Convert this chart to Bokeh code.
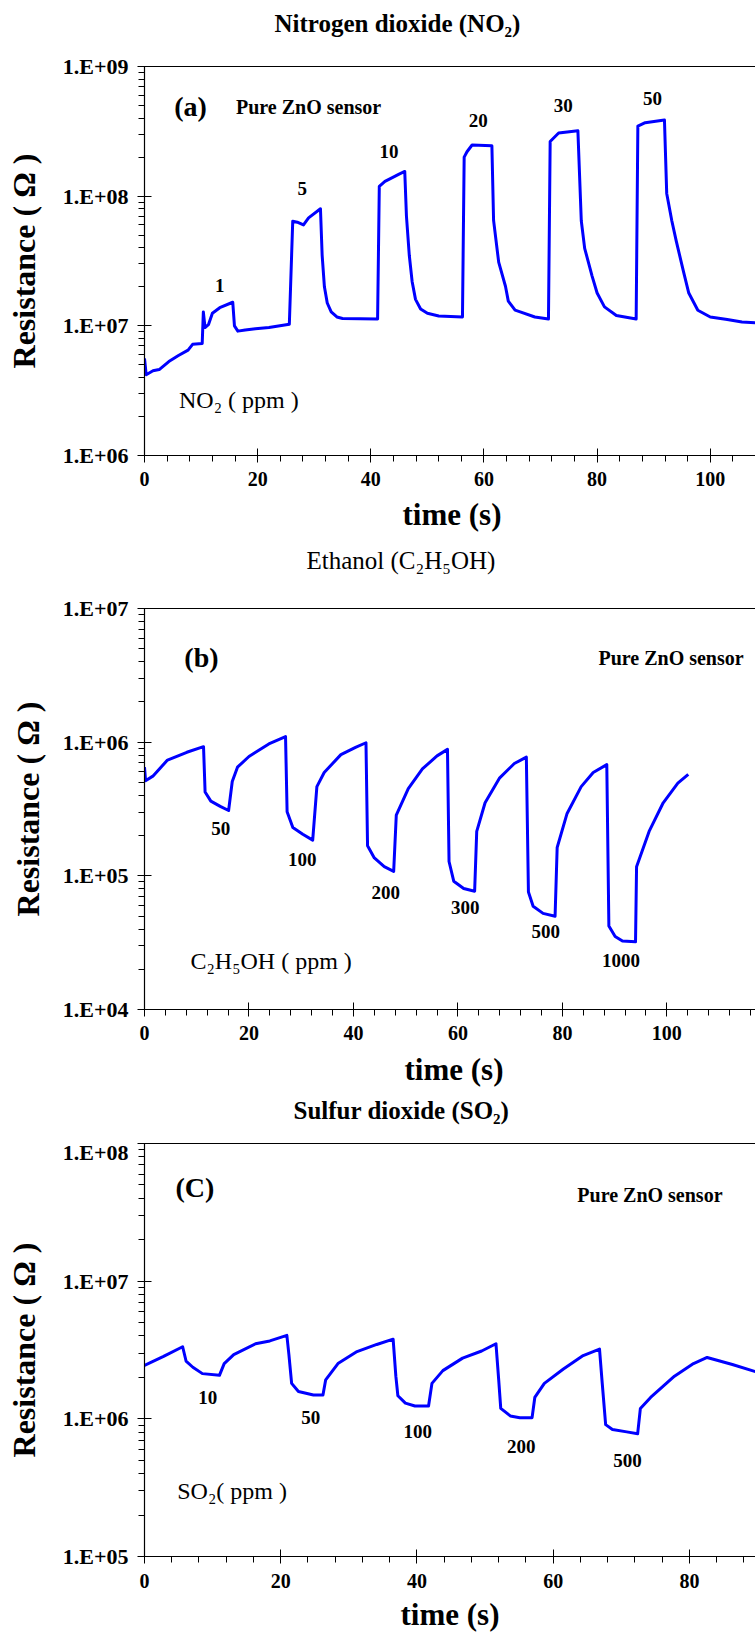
from bokeh.plotting import figure
from bokeh.models import FixedTicker, Label, LinearAxis, Range1d, Title
from bokeh.layouts import column
from bokeh.embed import file_html
from bokeh.resources import INLINE

# ---------------- data ----------------
# (a) NO2
t_a = [0.0, 0.3, 1.5, 2.6, 4.3, 6.0, 7.7, 8.5, 10.2, 10.4, 10.7, 11.3, 12.0, 13.3, 15.6, 15.9, 16.5, 17.8, 19.6, 22.0, 25.6,
       26.2, 27.0, 28.1, 29.0, 31.1, 31.4, 31.8, 32.3, 33.0, 34.0, 35.0, 41.2,
       41.5, 42.5, 43.8, 45.0, 46.0, 46.3, 46.8, 47.3, 47.9, 48.8, 50.0, 52.0, 56.2,
       56.5, 57.0, 57.9, 61.4, 61.7, 62.6, 63.8, 64.3, 65.5, 66.4, 69.0, 71.4,
       71.7, 73.2, 76.6, 77.2, 77.8, 79.1, 80.0, 81.3, 83.4, 86.9,
       87.2, 88.5, 91.9, 92.3, 93.2, 94.0, 95.3, 96.2, 97.8, 100.0, 103.0, 105.6, 108.8]
r_a = [5.6e6, 4.2e6, 4.5e6, 4.6e6, 5.3e6, 5.9e6, 6.5e6, 7.2e6, 7.3e6, 1.28e7, 9.7e6, 1.02e7, 1.25e7, 1.38e7, 1.52e7, 1.0e7, 9.1e6, 9.3e6, 9.5e6, 9.7e6, 1.03e7,
       6.4e7, 6.3e7, 6.0e7, 6.8e7, 8.0e7, 3.5e7, 2.0e7, 1.5e7, 1.28e7, 1.17e7, 1.14e7, 1.13e7,
       1.19e8, 1.3e8, 1.39e8, 1.48e8, 1.55e8, 7.0e7, 3.5e7, 2.2e7, 1.6e7, 1.35e7, 1.25e7, 1.19e7, 1.17e7,
       2.0e8, 2.2e8, 2.48e8, 2.45e8, 6.5e7, 3.1e7, 2.02e7, 1.55e7, 1.32e7, 1.28e7, 1.17e7, 1.13e7,
       2.64e8, 3.07e8, 3.2e8, 6.46e7, 3.96e7, 2.43e7, 1.79e7, 1.40e7, 1.2e7, 1.13e7,
       3.47e8, 3.69e8, 3.87e8, 1.05e8, 6.46e7, 4.48e7, 2.58e7, 1.79e7, 1.32e7, 1.17e7, 1.12e7, 1.07e7, 1.05e7]
conc_a = ["1", "5", "10", "20", "30", "50"]
conc_a_x = [13.3, 27.9, 43.2, 59.0, 74.0, 89.8]
conc_a_y = [2.05e7, 1.155e8, 2.22e8, 3.81e8, 5.0e8, 5.67e8]

# (b) Ethanol
t_b = [0.0, 0.2, 1.6, 4.4, 8.1, 11.3, 11.6, 12.7, 14.5, 16.1, 16.8, 17.8, 20.0, 23.8, 27.0, 27.3, 28.4, 30.3, 32.2,
       33.0, 34.4, 37.6, 40.4, 42.4, 42.7, 44.0, 45.9, 47.7, 48.2, 50.5, 53.2, 56.0, 58.0, 58.3, 59.2, 61.1, 63.2,
       63.6, 65.2, 68.0, 70.8, 73.1, 73.5, 74.4, 76.3, 78.6, 79.0, 80.9, 83.6, 85.9, 88.5, 88.9, 90.1, 91.5, 94.0,
       94.2, 96.6, 99.3, 102.1, 104.1]
r_b = [6.5e5, 5.15e5, 5.57e5, 7.35e5, 8.4e5, 9.25e5, 4.24e5, 3.62e5, 3.31e5, 3.08e5, 5.08e5, 6.5e5, 7.81e5, 9.7e5, 1.1e6,
       3.02e5, 2.3e5, 2.05e5, 1.85e5, 4.65e5, 5.93e5, 8.07e5, 9.13e5, 9.9e5, 1.68e5, 1.36e5, 1.17e5, 1.08e5,
       2.84e5, 4.5e5, 6.3e5, 7.9e5, 8.83e5, 1.28e5, 9.12e4, 8.05e4, 7.67e4, 2.15e5, 3.52e5, 5.41e5, 6.92e5, 7.73e5,
       7.58e4, 5.93e4, 5.24e4, 4.99e4, 1.63e5, 2.93e5, 4.65e5, 5.93e5, 6.79e5, 4.22e4, 3.52e4, 3.25e4, 3.21e4,
       1.17e5, 2.15e5, 3.52e5, 4.93e5, 5.75e5]
conc_b = ["50", "100", "200", "300", "500", "1000"]
conc_b_x = [14.6, 30.2, 46.2, 61.4, 76.8, 91.2]
conc_b_y = [2.26e5, 1.33e5, 7.45e4, 5.82e4, 3.81e4, 2.33e4]

# (c) SO2
t_c = [0.0, 2.8, 5.6, 6.1, 7.1, 8.5, 11.0, 11.7, 13.1, 16.3, 18.4, 20.9, 21.2, 21.6, 22.6, 24.8, 26.2,
       26.6, 28.4, 31.2, 34.1, 36.5, 36.9, 37.2, 38.3, 39.7, 41.7, 42.2, 43.8, 46.7, 49.5, 51.6,
       52.0, 52.3, 53.7, 55.1, 56.9, 57.3, 58.7, 61.5, 64.4, 66.8, 67.2, 67.7, 68.7, 70.8, 72.4,
       72.8, 74.3, 77.8, 80.6, 82.6, 86.3, 89.7]
r_c = [2.44e6, 2.84e6, 3.34e6, 2.63e6, 2.37e6, 2.13e6, 2.07e6, 2.52e6, 2.93e6, 3.51e6, 3.68e6, 4.04e6,
       2.93e6, 1.81e6, 1.58e6, 1.49e6, 1.49e6, 1.92e6, 2.52e6, 3.08e6, 3.47e6, 3.79e6,
       2.04e6, 1.47e6, 1.30e6, 1.24e6, 1.24e6, 1.81e6, 2.24e6, 2.76e6, 3.11e6, 3.51e6,
       1.92e6, 1.19e6, 1.05e6, 1.02e6, 1.02e6, 1.43e6, 1.81e6, 2.3e6, 2.88e6, 3.21e6,
       1.81e6, 9.08e5, 8.38e5, 8.04e5, 7.8e5, 1.19e6, 1.43e6, 2.04e6, 2.52e6, 2.79e6, 2.48e6, 2.2e6]
conc_c = ["10", "50", "100", "200", "500"]
conc_c_x = [9.3, 24.4, 40.1, 55.3, 70.9]
conc_c_y = [1.43e6, 1.02e6, 8.04e5, 6.31e5, 4.98e5]

# ticks
x_ticks_ab = [0, 20, 40, 60, 80, 100]
x_ticks_c = [0, 20, 40, 60, 80]
y_ticks_a = [1e6, 1e7, 1e8, 1e9]
y_labels_a = ["1.E+06", "1.E+07", "1.E+08", "1.E+09"]
y_ticks_b = [1e4, 1e5, 1e6, 1e7]
y_labels_b = ["1.E+04", "1.E+05", "1.E+06", "1.E+07"]
y_ticks_c = [1e5, 1e6, 1e7, 1e8]
y_labels_c = ["1.E+05", "1.E+06", "1.E+07", "1.E+08"]

titles = ["Nitrogen dioxide (NO\u2082)", "Ethanol (C\u2082H\u2085OH)", "Sulfur dioxide (SO\u2082)"]
panel_tags = ["(a)", "(b)", "(C)"]
gas_units = ["NO\u2082 ( ppm )", "C\u2082H\u2085OH ( ppm )", "SO\u2082( ppm )"]
sensor_text = "Pure ZnO sensor"
x_label = "time (s)"
y_label = "Resistance ( \u03a9 )"

FONT = "Liberation Serif"
BLUE = "#0000FF"


def minors_log(lo, hi):
    out = []
    e = lo
    while e < hi:
        out += [m * e for m in range(2, 10)]
        e *= 10
    return out


def make_panel(t, r, xmax, ylo, yhi, yticks, ylabels, xticks, xminor,
               left, top, fh, bottom, tick_standoff, xlabel_standoff, ylabel_standoff):
    p = figure(frame_width=755 - left, frame_height=fh, y_axis_type="log",
               x_range=Range1d(0, xmax), y_range=Range1d(ylo, yhi),
               output_backend="svg", toolbar_location=None,
               min_border_left=left, min_border_right=0,
               min_border_top=top, min_border_bottom=bottom)
    p.title.visible = False
    p.outline_line_color = None
    p.xgrid.visible = False
    p.ygrid.visible = False
    top_axis = LinearAxis(ticker=FixedTicker(ticks=[]), axis_line_color="black",
                          axis_line_width=1.2, major_tick_line_color=None,
                          minor_tick_line_color=None, major_tick_out=0, minor_tick_out=0,
                          major_tick_in=0, minor_tick_in=0, major_label_standoff=0)
    p.add_layout(top_axis, "above")

    p.line(t, r, line_color=BLUE, line_width=3, line_join="round")

    xa = p.below[0]
    ya = p.left[0]
    for ax in (xa, ya):
        ax.axis_line_color = "black"
        ax.axis_line_width = 1.2
        ax.major_tick_line_color = "black"
        ax.minor_tick_line_color = "black"
        ax.major_tick_in = 7
        ax.major_tick_out = 7
        ax.minor_tick_in = 0
        ax.minor_tick_out = 6
        ax.major_label_text_font = FONT
        ax.major_label_text_font_style = "bold"
        ax.major_label_text_color = "black"
        ax.axis_label_text_font = FONT
        ax.axis_label_text_font_style = "bold"
        ax.axis_label_text_color = "black"

    xa.ticker = FixedTicker(ticks=xticks, minor_ticks=xminor)
    xa.major_label_text_font_size = "20px"
    xa.major_label_standoff = tick_standoff
    xa.axis_label = x_label
    xa.axis_label_text_font_size = "31px"
    xa.axis_label_standoff = xlabel_standoff

    ya.ticker = FixedTicker(ticks=yticks, minor_ticks=minors_log(ylo, yhi))
    ya.major_label_overrides = {v: l for v, l in zip(yticks, ylabels)}
    ya.major_label_text_font_size = "22px"
    ya.major_label_standoff = 9
    ya.axis_label = y_label
    ya.axis_label_text_font_size = "32px"
    ya.axis_label_standoff = ylabel_standoff
    return p


def add_text(p, x, y, text, size, bold=True, align="center", baseline="middle"):
    p.add_layout(Label(x=x, y=y, text=text, text_font=FONT,
                       text_font_style="bold" if bold else "normal",
                       text_font_size=size, text_color="black",
                       text_align=align, text_baseline=baseline))


def add_title(p, side, text, bold, offset, standoff):
    p.add_layout(Title(text=text, align="left", offset=offset, vertical_align="top",
                       standoff=standoff, text_font=FONT, text_font_size="25px",
                       text_font_style="bold" if bold else "normal", text_color="black"),
                 side)


# ---------------- panel (a) ----------------
pa = make_panel(t_a, r_a, 108.7, 1e6, 1e9, y_ticks_a, y_labels_a, x_ticks_ab,
                [v for v in range(4, 109, 4) if v % 20],
                left=140, top=86, fh=389, bottom=140,
                tick_standoff=9, xlabel_standoff=8, ylabel_standoff=18)
add_title(pa, "above", titles[0], True, 130, 56)
add_text(pa, 8.15, 4.92e8, panel_tags[0], "28px")
add_text(pa, 29.0, 4.86e8, sensor_text, "20px")
add_text(pa, 6.1, 2.69e6, gas_units[0], "24px", False, "left")
for s, x, y in zip(conc_a, conc_a_x, conc_a_y):
    add_text(pa, x, y, s, "19px")
# title of panel (b) sits below panel (a)'s time axis
add_title(pa, "below", titles[1], False, 162, 24)

# ---------------- panel (b) ----------------
pb = make_panel(t_b, r_b, 118.5, 1e4, 1e7, y_ticks_b, y_labels_b, x_ticks_ab,
                [v for v in range(4, 119, 4) if v % 20],
                left=136, top=13, fh=401, bottom=130,
                tick_standoff=9, xlabel_standoff=9, ylabel_standoff=14)
add_text(pb, 10.9, 4.33e6, panel_tags[1], "28px")
add_text(pb, 100.8, 4.29e6, sensor_text, "20px")
add_text(pb, 8.8, 2.3e4, gas_units[1], "24px", False, "left")
for s, x, y in zip(conc_b, conc_b_x, conc_b_y):
    add_text(pb, x, y, s, "19px")
# title of panel (c) sits below panel (b)'s time axis
add_title(pb, "below", titles[2], True, 149, 15)

# ---------------- panel (c) ----------------
pc = make_panel(t_c, r_c, 89.7, 1e5, 1e8, y_ticks_c, y_labels_c, x_ticks_c,
                [v for v in range(4, 89, 4) if v % 20],
                left=144, top=4, fh=413, bottom=80,
                tick_standoff=10, xlabel_standoff=6, ylabel_standoff=18)
add_text(pc, 7.4, 4.81e7, panel_tags[2], "28px")
add_text(pc, 74.2, 4.26e7, sensor_text, "20px")
add_text(pc, 4.8, 2.99e5, gas_units[2], "24px", False, "left")
for s, x, y in zip(conc_c, conc_c_x, conc_c_y):
    add_text(pc, x, y, s, "19px")

layout = column(pa, pb, pc, spacing=0, styles={"margin-top": "-20px"})
open("out.html", "w").write(file_html(layout, INLINE))
